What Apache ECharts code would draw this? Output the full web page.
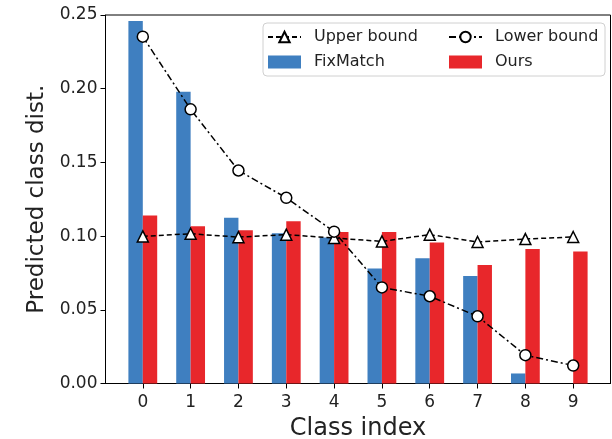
<!DOCTYPE html>
<html>
<head>
<meta charset="utf-8">
<script src="https://cdn.jsdelivr.net/npm/echarts@6/dist/echarts.min.js"></script>
<style>html,body{margin:0;padding:0;background:#fff}#c{width:612px;height:439px}</style>
</head>
<body>
<div id="c"></div>
<script>
const classes = [0, 1, 2, 3, 4, 5, 6, 7, 8, 9];
const fixmatch = [0.246, 0.198, 0.1125, 0.102, 0.099, 0.078, 0.085, 0.073, 0.0068, 0.0];
const ours = [0.114, 0.1066, 0.104, 0.110, 0.1028, 0.1028, 0.0957, 0.0804, 0.0912, 0.0896];
const upperBound = [0.0998, 0.1016, 0.0993, 0.101, 0.0987, 0.0964, 0.101, 0.096, 0.098, 0.0994];
const lowerBound = [0.2353, 0.186, 0.1445, 0.126, 0.103, 0.0652, 0.0592, 0.0456, 0.0192, 0.0122];
const yTicks = [0, 0.05, 0.10, 0.15, 0.20, 0.25];

const pair = arr => classes.map((c, i) => [c, arr[i]]);
const FONT = 'DejaVu Sans';
const legendText = {fontFamily: FONT, fontSize: 16, color: '#222', padding: [0, 0, 0, 8], lineHeight: 13};
const chart = echarts.init(document.getElementById('c'), null, {renderer: 'canvas'});
chart.setOption({
  animation: false,
  backgroundColor: '#fff',
  textStyle: {fontFamily: FONT},
  grid: {left: 105.5, right: 1.5, top: 15, bottom: 55.5, outerBoundsMode: 'none', containLabel: false,
         show: true, borderColor: '#000', borderWidth: 1, backgroundColor: 'transparent'},
  graphic: [{
    type: 'rect', z: 50,
    shape: {x: 263, y: 23, width: 342, height: 53, r: 4},
    style: {fill: 'rgba(255,255,255,0.85)', stroke: '#d0d0d0', lineWidth: 1}
  }],
  legend: [
    {left: 267, top: 29, padding: 0, orient: 'vertical', itemGap: 9, itemWidth: 33, itemHeight: 13, z: 60,
     data: ['Upper bound', {name: 'FixMatch', icon: 'rect'}], textStyle: legendText},
    {left: 448, top: 29, padding: 0, orient: 'vertical', itemGap: 9, itemWidth: 33, itemHeight: 13, z: 60,
     data: ['Lower bound', {name: 'Ours', icon: 'rect'}], textStyle: legendText}
  ],
  xAxis: {
    type: 'value', min: -0.78, max: 9.78,
    name: 'Class index', nameLocation: 'middle', nameGap: 31,
    nameTextStyle: {fontFamily: FONT, fontSize: 24, color: '#222'},
    axisLine: {show: true, onZero: false, lineStyle: {color: '#000', width: 1}},
    axisTick: {show: true, inside: false, length: 5, customValues: classes, lineStyle: {color: '#000'}},
    axisLabel: {customValues: classes, fontFamily: FONT, fontSize: 17, color: '#222', margin: 11, formatter: v => String(v)},
    splitLine: {show: false}
  },
  yAxis: {
    type: 'value', min: 0, max: 0.25, interval: 0.05,
    name: 'Predicted class dist.', nameLocation: 'middle', nameGap: 56,
    nameTextStyle: {fontFamily: FONT, fontSize: 23, color: '#222'},
    axisLine: {show: true, onZero: false, lineStyle: {color: '#000', width: 1}},
    axisTick: {show: true, inside: false, length: 5, lineStyle: {color: '#000'}},
    axisLabel: {fontFamily: FONT, fontSize: 17, color: '#222', margin: 8, formatter: v => v.toFixed(2)},
    splitLine: {show: false}
  },
  series: [
    {name: 'FixMatch', type: 'bar', data: pair(fixmatch), barWidth: 14.4, barGap: '0%',
     itemStyle: {color: '#3f7fc0'}, z: 2},
    {name: 'Ours', type: 'bar', data: pair(ours), barWidth: 14.4, barGap: '0%',
     itemStyle: {color: '#e8272b'}, z: 2},
    {name: 'Upper bound', type: 'line', data: pair(upperBound), symbol: 'triangle', symbolSize: 11,
     lineStyle: {color: '#000', width: 1.5, type: [5, 3]},
     itemStyle: {color: '#fff', borderColor: '#000', borderWidth: 1.5}, z: 5},
    {name: 'Lower bound', type: 'line', data: pair(lowerBound), symbol: 'circle', symbolSize: 11,
     lineStyle: {color: '#000', width: 1.5, type: [7, 3, 2, 3]},
     itemStyle: {color: '#fff', borderColor: '#000', borderWidth: 1.5}, z: 5}
  ]
});
</script>
</body>
</html>
